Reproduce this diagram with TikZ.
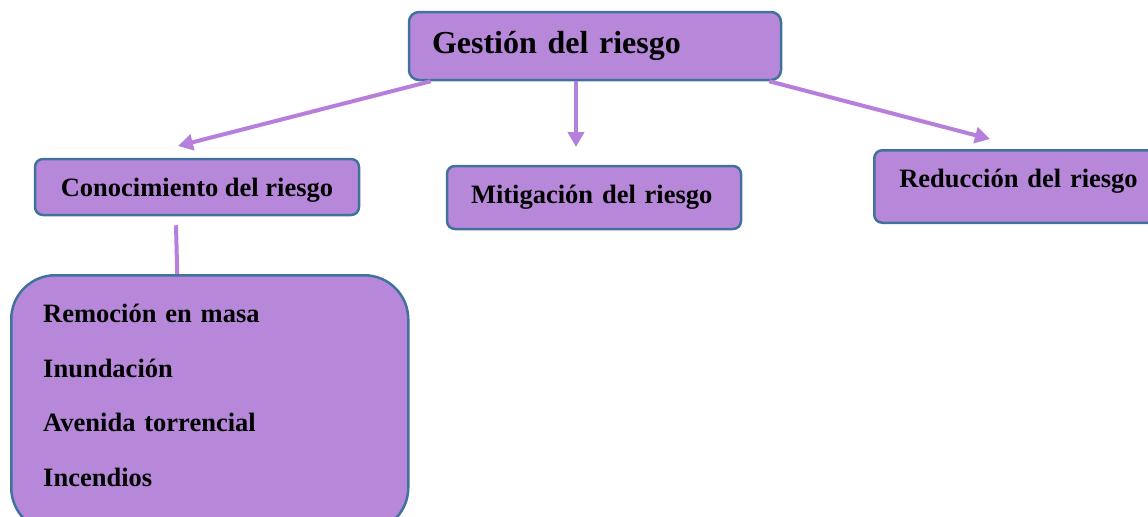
\documentclass[tikz,border=0pt]{standalone}
\usepackage{fontspec}
\setmainfont{Liberation Serif}
\usetikzlibrary{arrows.meta}
\definecolor{boxfill}{HTML}{B788DA}
\definecolor{boxline}{HTML}{41729D}
\definecolor{linkline}{HTML}{B67FDB}
\tikzset{
        box/.style={draw=boxline, fill=boxfill, line width=1.25pt, font=\bfseries\fontsize{13.25}{16}\selectfont},
        % Top box
        box_main/.style={box, rounded corners=5pt, font=\bfseries\fontsize{16}{19}\selectfont},
        % Second level boxes
        box_sub/.style={box, rounded corners=4pt},
        % List of hazards
        box_list/.style={box, rounded corners=22pt, font=\bfseries\fontsize{13.25}{27.3}\selectfont},
        % Connectors
        link/.style={draw=linkline, line width=2pt, -{Triangle[length=7.5pt,width=8pt]}},
        link_plain/.style={draw=linkline, line width=2pt}
}
\begin{document}
\begin{tikzpicture}[x=0.5pt, y=-0.5pt]
            \path[use as bounding box, clip] (0,0) rectangle (1148,516);
            \node[box_main, minimum width=186pt, minimum height=34pt, inner xsep=11.5pt, text width=163pt, align=left] (gestion) at (595,46) {Gestión del riesgo};
            \node[box_sub, minimum width=162pt, minimum height=28pt, text height=9.25pt, text depth=-1.5pt] (conocimiento) at (197,187) {Conocimiento del riesgo};
            \node[box_sub, minimum width=147pt, minimum height=31.5pt, inner xsep=12pt, text width=123pt, align=left] (mitigacion) at (594,197.5) {Mitigación del riesgo};
            \node[box_sub, anchor=north west, inner xsep=12.5pt, inner ysep=9.5pt, text width=123.5pt, text height=9.25pt, text depth=8pt, align=left] (reduccion) at (873,149) {Reducción del riesgo};
            \node[box_list, anchor=north west, inner xsep=16pt, inner ysep=14.5pt, text width=166.5pt, text depth=90pt, align=left] (amenazas) at (10,274) {Remoción en masa\\ Inundación\\ Avenida torrencial\\ Incendios};
            % free ends of the arrows
            \coordinate (fin1) at (178,146);
            \coordinate (fin2) at (576,147);
            \coordinate (fin3) at (990,139);
            \draw[link] ([xshift=11.5pt]gestion.south west) -- (fin1);
            \draw[link] ([xshift=-9.5pt]gestion.south) -- (fin2);
            \draw[link] ([xshift=-6.5pt]gestion.south east) -- (fin3);
            \draw[link_plain] ([xshift=-10.5pt,yshift=-4.5pt]conocimiento.south) -- ([xshift=-16.25pt]amenazas.north);
        \end{tikzpicture}
\end{document}
